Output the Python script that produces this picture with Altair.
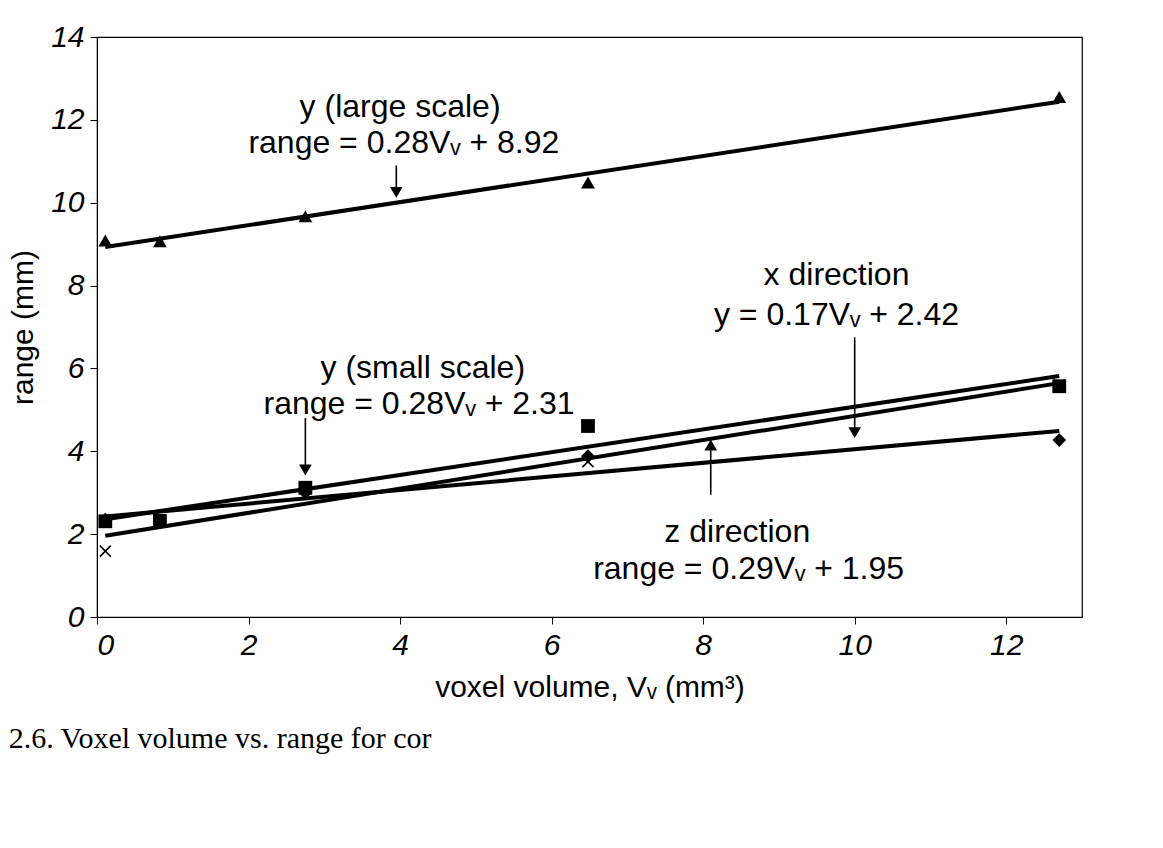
import altair as alt
import pandas as pd

# ---- data read from the (rotated) scan, converted to axis units ----
voxel_volume = [0.11, 0.83, 2.75, 6.48, 12.7]
y_large_scale = [9.09, 9.07, 9.67, 10.49, 12.55]
y_small_scale = [2.31, 2.32, 3.12, 4.61, 5.57]
x_direction = [2.35, 2.30, 3.00, 3.88, 4.27]
z_direction = [1.59, 2.30, 3.10, 3.75, 5.60]

series_names = ["y (large scale)", "y (small scale)", "x direction", "z direction"]
series_values = [y_large_scale, y_small_scale, x_direction, z_direction]

x_ticks = [0, 2, 4, 6, 8, 10, 12]
y_ticks = [0, 2, 4, 6, 8, 10, 12, 14]

# annotation text lines (label, Vv, range)
ann_text = [
    "y (large scale)", "range = 0.28Vᵥ + 8.92",
    "y (small scale)", "range = 0.28Vᵥ + 2.31",
    "x direction", "y = 0.17Vᵥ + 2.42",
    "z direction", "range = 0.29Vᵥ + 1.95",
]
ann_x = [4.0, 4.05, 4.3, 4.25, 9.76, 9.76, 8.45, 8.6]
ann_y = [12.3, 11.45, 6.0, 5.15, 8.25, 7.3, 2.05, 1.15]

# arrows: x, start, tip, head shape
arrow_x = [3.95, 2.75, 10.0, 8.1]
arrow_start = [10.9, 4.8, 6.75, 2.95]
arrow_tip = [10.25, 3.55, 4.45, 4.15]
arrow_head = ["triangle-down", "triangle-down", "triangle-down", "triangle-up"]

rows = []
for name, vals in zip(series_names, series_values):
    for v, r in zip(voxel_volume, vals):
        rows.append({"series": name, "Vv": v, "range": r})
df = pd.DataFrame(rows)

ann_df = pd.DataFrame({"label": ann_text, "Vv": ann_x, "range": ann_y})
arrow_df = pd.DataFrame({"Vv": arrow_x, "y1": arrow_start, "y2": arrow_tip, "head": arrow_head})

FONT = "Liberation Sans"

x_scale = alt.Scale(domain=[0, 13], nice=False, zero=False)
y_scale = alt.Scale(domain=[0, 14], nice=False)

x_enc = alt.X("Vv:Q", scale=x_scale,
              axis=alt.Axis(title="voxel volume, Vᵥ (mm³)", values=x_ticks, format="d", grid=False))
y_enc = alt.Y("range:Q", scale=y_scale,
              axis=alt.Axis(title="range (mm)", values=y_ticks, format="d", grid=False))

lines = (
    alt.Chart(df)
    .transform_regression("Vv", "range", groupby=["series"])
    .mark_line(color="black", strokeWidth=4)
    .encode(x=x_enc, y=y_enc, detail="series:N")
)

filled_pts = (
    alt.Chart(df)
    .transform_filter(alt.datum.series != "z direction")
    .mark_point(filled=True, color="black", size=190, opacity=1)
    .encode(
        x=x_enc, y=y_enc,
        shape=alt.Shape("series:N",
                        scale=alt.Scale(domain=series_names[:3],
                                        range=["triangle-up", "square", "diamond"]),
                        legend=None),
    )
)

cross_pts = (
    alt.Chart(df)
    .transform_filter(alt.datum.series == "z direction")
    .mark_point(shape="M-1,-1L1,1M-1,1L1,-1", filled=False, color="black",
                strokeWidth=1.6, size=120, opacity=1)
    .encode(x=x_enc, y=y_enc)
)

arrow_rules = (
    alt.Chart(arrow_df)
    .mark_rule(color="black", strokeWidth=1.6)
    .encode(x=alt.X("Vv:Q", scale=x_scale), y=alt.Y("y1:Q", scale=y_scale), y2="y2:Q")
)

arrow_heads = (
    alt.Chart(arrow_df)
    .mark_point(filled=True, color="black", size=160, opacity=1)
    .encode(x=alt.X("Vv:Q", scale=x_scale), y=alt.Y("y2:Q", scale=y_scale),
            shape=alt.Shape("head:N", scale=None))
)

labels = (
    alt.Chart(ann_df)
    .mark_text(font=FONT, fontSize=32, color="black", align="center", baseline="middle")
    .encode(x=alt.X("Vv:Q", scale=x_scale), y=alt.Y("range:Q", scale=y_scale), text="label:N")
)

chart = (
    alt.layer(lines, filled_pts, cross_pts, arrow_rules, arrow_heads, labels)
    .properties(
        width=985,
        height=580,
        background="white",
        padding={"left": 8, "top": 22, "right": 10, "bottom": 10},
        title=alt.TitleParams(
            text="2.6.  Voxel volume vs. range for cor",
            orient="bottom", anchor="start", frame="bounds",
            font="Liberation Serif", fontSize=30, fontWeight="normal",
            color="black", offset=22,
        ),
    )
    .configure_view(stroke="black", strokeWidth=1.2)
    .configure_axis(
        labelFont=FONT, labelFontSize=30, labelFontStyle="italic", labelColor="black",
        titleFont=FONT, titleFontSize=30, titleFontWeight="normal", titleColor="black",
        domainColor="black", tickColor="black", tickSize=7, labelPadding=6,
        titlePadding=12,
    )
)

chart.save("out.html", embed_options={"renderer": "svg", "actions": False})
